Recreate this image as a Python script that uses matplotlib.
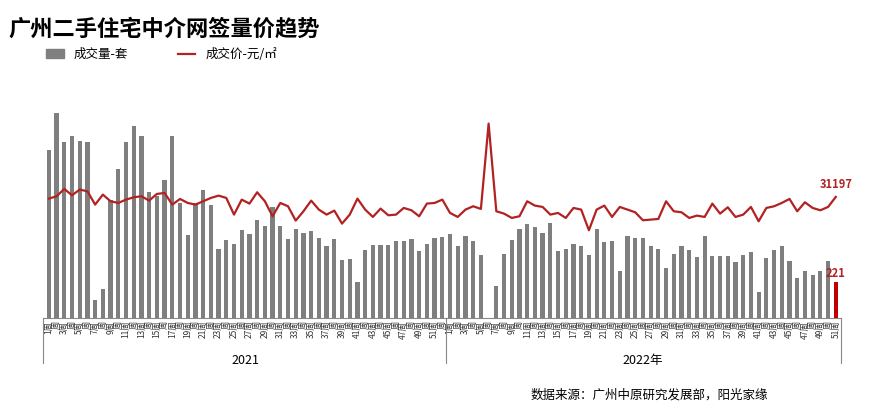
import matplotlib
matplotlib.use("Agg")
import matplotlib.pyplot as plt
from matplotlib.lines import Line2D
from matplotlib.patches import Patch

plt.rcParams['font.family'] = ['Noto Sans CJK SC', 'DejaVu Sans']

weeks_2021 = list(range(1, 53))
weeks_2022 = list(range(1, 52))
volume_2021 = [1025, 1248, 1074, 1110, 1080, 1072, 112, 179, 721, 909, 1074, 1171, 1110, 769, 741, 842,
               1110, 700, 508, 700, 782, 690, 422, 477, 453, 538, 514, 599, 562, 676, 562, 483, 544, 520,
               532, 489, 441, 483, 355, 361, 221, 416, 447, 447, 447, 471, 471, 483, 410, 453, 489, 495]
volume_2022 = [514, 441, 501, 471, 386, 0, 197, 392, 477, 544, 574, 556, 520, 581, 410, 422, 453, 441,
               386, 544, 465, 471, 288, 501, 489, 489, 441, 422, 307, 392, 441, 416, 374, 501, 380, 380,
               380, 343, 386, 404, 160, 367, 416, 441, 349, 246, 288, 264, 288, 349, 221]
price_2021 = [30767, 31368, 33259, 31626, 33087, 32657, 29220, 31798, 30079, 29649, 30509, 31110, 31368,
              30251, 31970, 32228, 29220, 30681, 29649, 29220, 30079, 30938, 31540, 30938, 26641, 30509,
              29477, 32399, 30079, 26212, 29649, 28790, 25094, 27501, 30251, 27931, 26641, 27673, 24321,
              26641, 30767, 27931, 26040, 28188, 26470, 26641, 28360, 27759, 26212, 29477, 29649, 30509]
price_2022 = [27071, 26040, 27931, 28790, 28102, 50103, 27501, 26899, 25782, 26212, 30079, 28962, 28618,
              26641, 27071, 25782, 28360, 27931, 22602, 27931, 28962, 26040, 28618, 27931, 27243, 25180,
              25352, 25524, 30079, 27501, 27243, 25782, 26384, 26040, 29477, 26899, 28532, 26040, 26641,
              28618, 24923, 28360, 28790, 29649, 30681, 27501, 29821, 28360, 27759, 28618, 31197]

labels = [f"{w}周" if w % 2 else "周" for w in weeks_2021] + [f"{w}周" if w % 2 else "周" for w in weeks_2022]
volume = volume_2021 + volume_2022
price = price_2021 + price_2022
n = len(volume)
x = list(range(n))

fig = plt.figure(figsize=(8.69, 4.2), dpi=100)
ax = fig.add_axes([0.050, 0.243, 0.918, 0.531])
colors = ['#7f7f7f'] * (n - 1) + ['#c00000']
ax.bar(x, volume, width=0.55, color=colors)
ax.set_ylim(0, 1360)
ax.set_xlim(-0.7, n - 0.3)
ax.set_yticks([])
for s in ['top', 'right', 'left']:
    ax.spines[s].set_visible(False)
ax.spines['bottom'].set_color('#888888')
ax.set_xticks(x)
ax.set_xticklabels(labels, rotation=90, fontsize=6, color='#333333')
ax.tick_params(axis='x', length=0, pad=2)

ax2 = ax.twinx()
ax2.plot(x, price, color='#b22222', lw=1.6)
ax2.set_ylim(0, 57500)
ax2.set_yticks([])
for s in ['top', 'right', 'left', 'bottom']:
    ax2.spines[s].set_visible(False)

ax2.text(n - 1, price[-1] + 1500, str(price[-1]), color='#b22222', fontsize=8,
         fontweight='bold', ha='center', va='bottom')
ax.text(n - 1, volume[-1] + 10, str(volume[-1]), color='#b22222', fontsize=8,
        fontweight='bold', ha='center', va='bottom')

for xp in [-0.7, 51.5, n - 0.3]:
    ax.plot([xp, xp], [0, -0.2], transform=ax.get_xaxis_transform(), color='#888888', lw=0.8, clip_on=False)
ax.text(25.5, -0.19, "2021", transform=ax.get_xaxis_transform(), ha='center', va='center', fontsize=9)
ax.text(52 + 25, -0.19, "2022年", transform=ax.get_xaxis_transform(), ha='center', va='center', fontsize=9)

fig.text(0.01, 0.93, "广州二手住宅中介网签量价趋势", fontsize=16, fontweight='bold', va='center')
fig.legend(handles=[Patch(color='#7f7f7f', label='成交量-套'),
                    Line2D([0], [0], color='#b22222', lw=1.6, label='成交价-元/㎡')],
           loc='center left', bbox_to_anchor=(0.04, 0.87), ncol=2, frameon=False,
           fontsize=9, handlelength=1.4, columnspacing=4)
fig.text(0.61, 0.06, "数据来源：广州中原研究发展部，阳光家缘", fontsize=9, va='center')

fig.savefig("out.png", dpi=100)
